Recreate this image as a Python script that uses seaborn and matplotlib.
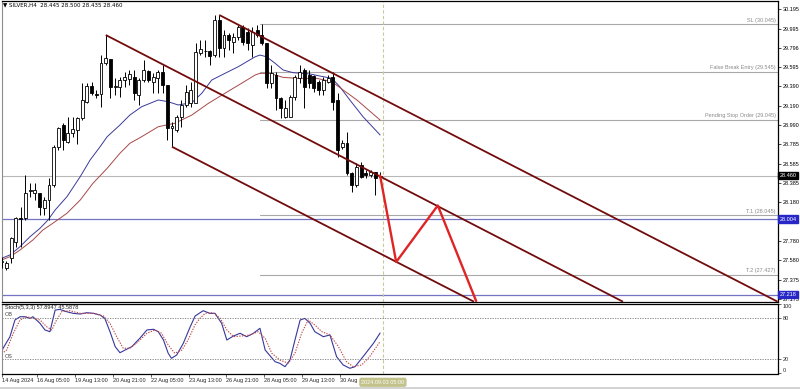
import matplotlib
matplotlib.use("Agg")
import matplotlib.pyplot as plt
import matplotlib.transforms as mtrans
from matplotlib.patches import Rectangle
import numpy as np
import pandas as pd
import seaborn as sns

# ---------------- data ----------------
opens = [27.559, 27.496, 27.600, 27.770, 28.021, 28.014, 28.302, 28.275, 28.282, 28.119,
         28.205, 28.362, 28.761, 28.988, 28.814, 28.901, 28.936, 29.058, 29.231, 29.395,
         29.311, 29.311, 29.632, 29.673, 29.387, 29.387, 29.457, 29.468, 29.492, 29.301,
         29.457, 29.554, 29.440, 29.475, 29.544, 29.405, 28.953, 28.936, 29.074, 29.197,
         29.214, 29.214, 29.742, 29.763, 29.763, 29.718, 30.083, 29.788, 29.927, 29.857,
         29.909, 30.013, 29.961, 29.823, 29.979, 29.927, 29.840, 29.423, 29.510, 29.266,
         29.074, 29.074, 29.283, 29.475, 29.562, 29.510, 29.499, 29.440, 29.353, 29.440,
         29.486, 29.249, 28.761, 28.796, 28.484, 28.362, 28.571, 28.484, 28.466, 28.501,
         28.445]
highs = [27.611, 27.569, 27.822, 28.031, 28.132, 28.466, 28.380, 28.380, 28.282, 28.240,
         28.432, 28.779, 28.970, 29.006, 29.074, 29.074, 29.074, 29.423, 29.423, 29.440,
         29.353, 29.718, 29.927, 29.673, 29.475, 29.492, 29.544, 29.562, 29.562, 29.475,
         29.666, 29.562, 29.527, 29.562, 29.614, 29.405, 29.022, 29.092, 29.249, 29.405,
         29.440, 29.840, 29.875, 29.875, 29.770, 30.136, 30.136, 29.979, 29.945, 29.945,
         30.031, 30.031, 29.997, 30.013, 30.031, 30.045, 29.840, 29.614, 29.544, 29.283,
         29.249, 29.301, 29.510, 29.614, 29.579, 29.562, 29.510, 29.457, 29.492, 29.510,
         29.544, 29.319, 28.831, 28.918, 28.501, 28.588, 28.605, 28.518, 28.518, 28.501,
         28.500]
lows = [27.496, 27.475, 27.548, 27.718, 27.718, 27.997, 28.240, 28.205, 28.049, 28.049,
        27.997, 28.344, 28.727, 28.727, 28.797, 28.866, 28.790, 29.040, 29.214, 29.301,
        29.266, 29.179, 29.614, 29.266, 29.301, 29.283, 29.387, 29.405, 29.249, 29.197,
        29.440, 29.440, 29.319, 29.319, 29.319, 28.831, 28.761, 28.918, 28.970, 29.179,
        29.179, 29.214, 29.718, 29.700, 29.614, 29.700, 29.700, 29.700, 29.770, 29.736,
        29.875, 29.823, 29.770, 29.700, 29.909, 29.823, 29.371, 29.371, 29.144, 29.058,
        29.058, 29.068, 29.249, 29.423, 29.162, 29.371, 29.335, 29.301, 29.301, 29.423,
        29.144, 28.657, 28.742, 28.466, 28.292, 28.344, 28.432, 28.432, 28.449, 28.258,
        28.435]
closes = [27.569, 27.548, 27.809, 28.014, 28.004, 28.275, 28.307, 28.310, 28.136, 28.205,
          28.362, 28.761, 28.953, 28.831, 28.908, 28.946, 29.058, 29.249, 29.395, 29.319,
          29.306, 29.632, 29.684, 29.387, 29.392, 29.457, 29.492, 29.520, 29.319, 29.457,
          29.562, 29.457, 29.492, 29.544, 29.405, 28.953, 28.977, 29.074, 29.197, 29.335,
          29.353, 29.753, 29.778, 29.758, 29.708, 30.083, 29.788, 29.927, 29.875, 29.909,
          30.013, 29.857, 29.840, 29.961, 29.927, 29.840, 29.423, 29.527, 29.266, 29.162,
          29.162, 29.283, 29.492, 29.544, 29.387, 29.423, 29.371, 29.353, 29.457, 29.475,
          29.231, 28.727, 28.796, 28.484, 28.362, 28.553, 28.449, 28.466, 28.501, 28.432,
          28.460]

ma_fast_idx = [0, 1.75, 3.87, 5.98, 8.1, 9.8, 11.3, 13.8, 16.6, 18.7, 20.8, 22.3, 25.0, 27.1,
               29.6, 33.1, 35.2, 37.3, 40.2, 42.3, 44.4, 47.2, 50.0, 53.6, 54.6, 56.0, 57.8,
               59.5, 61.6, 65.2, 68.0, 69.8, 71.5, 73.6, 76.4, 80]
ma_fast_val = [27.597, 27.632, 27.718, 27.822, 27.910, 27.997, 28.101, 28.240, 28.449, 28.623,
               28.761, 28.866, 28.988, 29.092, 29.179, 29.249, 29.231, 29.197, 29.221, 29.319,
               29.457, 29.527, 29.596, 29.700, 29.718, 29.700, 29.632, 29.562, 29.534, 29.520,
               29.492, 29.475, 29.387, 29.249, 29.074, 28.884]
ma_slow_idx = [0, 1.75, 3.9, 6.6, 8.7, 10.8, 13.8, 16.6, 19.3, 22.3, 25.0, 27.1, 29.6, 33.1,
               36.6, 40.2, 43.7, 47.2, 50.7, 53.6, 54.6, 56.7, 59.5, 62.4, 66.6, 69.8, 72.2,
               75.1, 80]
ma_slow_val = [27.579, 27.614, 27.684, 27.788, 27.892, 27.962, 28.067, 28.205, 28.380, 28.536,
               28.693, 28.797, 28.866, 28.970, 29.006, 29.092, 29.214, 29.319, 29.423, 29.510,
               29.527, 29.527, 29.485, 29.475, 29.475, 29.440, 29.353, 29.249, 29.040]

stoch_k_idx = [0, 0.3, 1.75, 2.8, 3.9, 4.9, 6.0, 6.6, 8.1, 9.15, 10.2, 11.3, 12.3, 13.7, 15.1,
               16.6, 18.0, 19.4, 20.8, 21.8, 22.9, 24.0, 25.0, 26.1, 27.5, 29.2, 30.7, 32.1,
               33.1, 34.2, 35.2, 35.9, 37.0, 38.4, 39.8, 40.9, 42.6, 44.0, 45.1, 46.5, 47.6,
               49.0, 50.4, 51.8, 53.2, 54.6, 55.7, 57.8, 58.8, 59.9, 60.95, 62.0, 63.1, 64.1,
               65.2, 66.2, 68.0, 69.4, 70.8, 72.2, 73.6, 74.7, 76.4, 78.6, 80]
stoch_k_val = [31, 36, 52.6, 76.7, 81.4, 81.4, 79, 81.4, 71.9, 62.3, 59.8, 91, 92, 88.7, 86.3,
               85.3, 87.2, 86.3, 83.9, 79, 59.8, 38.2, 29.5, 33.4, 38.2, 50.3, 62.3, 63.3,
               59.8, 47.8, 28.7, 21.4, 26.2, 43.1, 66, 82.5, 90.1, 86.3, 86.3, 71.9, 47.8,
               53.6, 57.5, 52.6, 57.5, 64.7, 33.4, 16.5, 14.2, 9.3, 19, 47.8, 76.7, 79,
               71.9, 59.8, 52.6, 55.1, 23.8, 11.8, 7, 9.3, 23.8, 43.1, 57.89]
stoch_d_idx = [0, 1.06, 2.45, 3.87, 5.3, 6.7, 8.1, 9.5, 10.6, 11.6, 12.7, 14.4, 16.6, 19.4,
               21.5, 22.9, 24.3, 25.7, 27.1, 28.5, 30.7, 32.4, 33.8, 35.2, 36.6, 38.1, 39.4,
               40.9, 41.9, 43.0, 44.7, 46.2, 47.6, 49.0, 50.7, 52.5, 54.2, 55.7, 57.1, 58.8,
               60.6, 62.0, 63.4, 64.8, 66.2, 67.7, 69.4, 71.2, 72.9, 74.3, 76.1, 77.8, 80]
stoch_d_val = [28, 33.4, 57.5, 76.7, 81.4, 79, 76.7, 67, 62.3, 76.7, 88.7, 90.1, 86.3, 86.3,
               82.5, 71.9, 52.6, 35.9, 35.9, 43.1, 57.5, 62.3, 57.5, 40.6, 28.7, 33.4, 47.8,
               70, 79, 86.3, 87.2, 79, 62.3, 52.6, 53.6, 55.1, 59.8, 50.3, 28.7, 19, 14.2,
               28.7, 57.5, 76.7, 69.5, 59.8, 55.1, 38.2, 16.5, 9.3, 11.8, 23.8, 45.59]

# channel trend lines: start (bar, price) -> end (bar, price)
chan_x0 = [46, 22, 36]
chan_y0 = [30.136, 29.927, 28.761]
chan_x1 = [164.05, 131.35, 99.85]
chan_y1 = [27.144, 27.144, 27.144]

zig_idx = [80, 83.4, 92.2, 100.3]
zig_val = [28.460, 27.558, 28.148, 27.152]

level_names = ["SL", "False Break Entry", "Pending Stop Order", "T.1", "T.2"]
level_vals = [30.045, 29.545, 29.045, 28.045, 27.427]
level_start = 54.6
blue_levels = [28.004, 27.218]
bid_price = 28.460

price_ticks = [30.195, 29.995, 29.796, 29.595, 29.390, 29.190, 28.990, 28.785, 28.585,
               28.385, 28.180, 27.980, 27.780, 27.580, 27.375, 27.175]
time_pos = [0, 7.5, 15.5, 23.5, 31.5, 39.5, 47.5, 55.5, 63.5, 71.5]
time_labels = ["14 Aug 2024", "16 Aug 05:00", "19 Aug 13:00", "20 Aug 21:00", "22 Aug 05:00",
               "23 Aug 13:00", "26 Aug 21:00", "28 Aug 05:00", "29 Aug 13:00", "30 Aug"]
cursor_pos = 80.6
cursor_label = "2024.09.03 05:00"

# ---------------- style ----------------
sns.set_style("white")
plt.rcParams["font.family"] = ["Liberation Sans", "DejaVu Sans"]
FS = 4.0

W, H = 800, 389
fig = plt.figure(figsize=(W / 100, H / 100), dpi=100)
fig.patch.set_facecolor("white")

def rect(x0, y0, x1, y1):
    return [x0 / W, 1 - y1 / H, (x1 - x0) / W, (y1 - y0) / H]

ax = fig.add_axes(rect(1.5, 1.0, 777.7, 301.7))
axs = fig.add_axes(rect(1.5, 303.8, 777.7, 373.5))
XL = (-0.04, 164.06)

df = pd.DataFrame({"o": opens, "h": highs, "l": lows, "c": closes})
df["i"] = np.arange(len(df))

# candles
ax.vlines(df["i"], df["l"], df["h"], color="black", lw=0.7, zorder=3)
up = df["c"] >= df["o"]
body_lo = np.minimum(df["o"], df["c"])
body_h = np.maximum(np.abs(df["c"] - df["o"]), 0.004)
ax.bar(df["i"][up], body_h[up], bottom=body_lo[up], width=0.62, color="white",
       edgecolor="black", linewidth=0.6, zorder=4)
ax.bar(df["i"][~up], body_h[~up], bottom=body_lo[~up], width=0.62, color="black",
       edgecolor="black", linewidth=0.6, zorder=4)

# moving averages
sns.lineplot(x=ma_fast_idx, y=ma_fast_val, ax=ax, color="#3a3a9a", lw=0.7, zorder=2)
sns.lineplot(x=ma_slow_idx, y=ma_slow_val, ax=ax, color="#a84848", lw=0.7, zorder=2)

# horizontal levels
trl = mtrans.blended_transform_factory(ax.transAxes, ax.transData)
for nm, v in zip(level_names, level_vals):
    ax.plot([level_start, XL[1]], [v, v], color="#a8a8a8", lw=0.8, zorder=1)
    ax.text(0.9975, v + 0.012, f"{nm} ({v:.3f})", transform=trl,
            ha="right", va="bottom", fontsize=FS, color="#8a8a8a")
for v in blue_levels:
    ax.axhline(v, color="#7474c4", lw=0.9, zorder=1)
ax.axhline(bid_price, color="#b8b8b8", lw=0.8, zorder=1)

# channel lines
for x0, y0, x1, y1 in zip(chan_x0, chan_y0, chan_x1, chan_y1):
    ax.plot([x0, x1], [y0, y1], color="#720c0c", lw=1.3, zorder=5, solid_capstyle="butt")

# projection zigzag
sns.lineplot(x=zig_idx, y=zig_val, ax=ax, color="#e02424", lw=1.7, zorder=6, sort=False)

# cursor line
for a in (ax, axs):
    a.axvline(cursor_pos, color="#c9c99c", lw=0.8, ls=(0, (3, 2)), zorder=1)

ax.set_xlim(*XL)
ax.set_ylim(27.144, 30.282)
ax.set_xticks([])
ax.yaxis.tick_right()
ax.set_yticks(price_ticks)
ax.set_yticklabels([f"{t:.3f}" for t in price_ticks])
ax.tick_params(axis="y", which="both", right=True, length=2, width=0.5, pad=1.5,
               labelsize=FS, colors="black")
ax.set_xlabel("")
ax.set_ylabel("")

# right-axis value boxes
for v, fc in [(bid_price, "black"), (blue_levels[0], "#2727c8"), (blue_levels[1], "#2727c8")]:
    ax.text(1.002, v, f"{v:.3f}", transform=trl, ha="left", va="center", fontsize=FS,
            color="white", clip_on=False, zorder=10,
            bbox=dict(boxstyle="square,pad=0.25", fc=fc, ec=fc))

# title
ax.text(0.002, 0.995, "\u25bc SILVER,H4  28.445 28.500 28.435 28.460", transform=ax.transAxes,
        ha="left", va="top", fontsize=FS, color="black", family=["DejaVu Sans"])

# stochastic
sns.lineplot(x=stoch_k_idx, y=stoch_k_val, ax=axs, color="#36369c", lw=0.8)
sns.lineplot(x=stoch_d_idx, y=stoch_d_val, ax=axs, color="#c04848", lw=0.8, linestyle=(0, (1.2, 1.2)))
for lv in (80, 20):
    axs.axhline(lv, color="#7a7a7a", lw=0.6, ls=(0, (1.5, 1.5)))
axs.set_xlim(*XL)
axs.set_ylim(-0.5, 100.05)
axs.yaxis.tick_right()
axs.set_yticks([100, 80, 20, 0])
axs.set_yticklabels(["100", "80", "20", "0"])
axs.tick_params(axis="y", right=True, length=2, width=0.5, pad=1.5, labelsize=FS)
for lab in axs.get_yticklabels():
    if lab.get_text() == "100":
        lab.set_verticalalignment("top")
    elif lab.get_text() == "0":
        lab.set_verticalalignment("bottom")
axs.set_xticks(time_pos)
axs.set_xticklabels(time_labels)
axs.tick_params(axis="x", bottom=True, length=2, width=0.5, pad=1.5, labelsize=FS)
for lab in axs.get_xticklabels():
    lab.set_horizontalalignment("left")
axs.set_xlabel("")
axs.set_ylabel("")
trs = mtrans.blended_transform_factory(axs.transAxes, axs.transData)
axs.text(0.004, 0.985, "Stoch(5,3,3) 57.8947 45.5878", transform=axs.transAxes, ha="left",
         va="top", fontsize=FS, color="#202020")
axs.text(0.004, 80.5, "OB", fontsize=FS, color="#404040", ha="left", va="bottom", transform=trs)
axs.text(0.004, 20.5, "OS", fontsize=FS, color="#404040", ha="left", va="bottom", transform=trs)

# cursor time box
axs.text(cursor_pos, -0.09, cursor_label,
         transform=mtrans.blended_transform_factory(axs.transData, axs.transAxes),
         ha="center", va="top", fontsize=FS, color="white", clip_on=False, zorder=10,
         bbox=dict(boxstyle="round,pad=0.25", fc="#c2c28a", ec="#c2c28a"))

for a in (ax, axs):
    for side in ("top", "right", "bottom"):
        a.spines[side].set_color("black")
        a.spines[side].set_linewidth(0.9)
    a.spines["left"].set_color("#8c8c8c")
    a.spines["left"].set_linewidth(0.8)

fig.patches.append(Rectangle((0, 0), 1, 2.5 / H, transform=fig.transFigure, fc="#d4d4d4", ec="none"))

fig.savefig("out.png", dpi=100)
